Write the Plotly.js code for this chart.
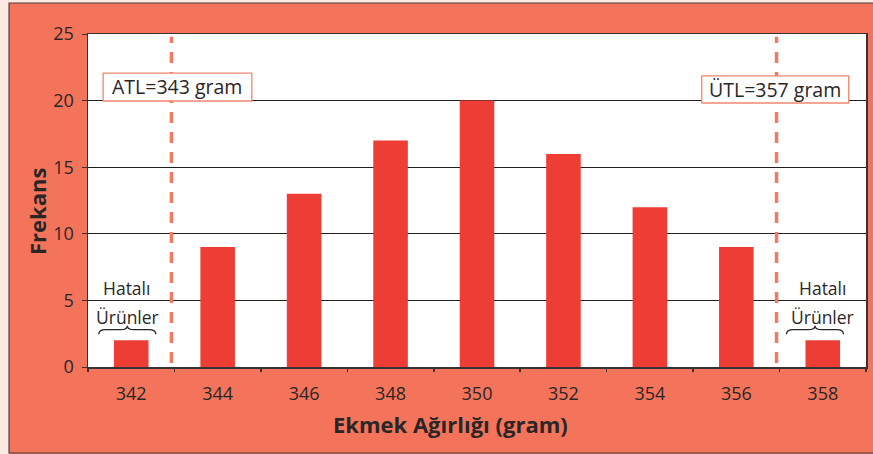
<!DOCTYPE html>
<html>
<head>
<meta charset="utf-8">
<script src="https://cdn.plot.ly/plotly-3.0.1.min.js"></script>
<style>html,body{margin:0;padding:0;background:#fce9e1;}#chart{width:873px;height:454px;}</style>
</head>
<body>
<div id="chart"></div>
<script>
// Data
const weights = [342, 344, 346, 348, 350, 352, 354, 356, 358];
const frequencies = [2, 9, 13, 17, 20, 16, 12, 9, 2];
const yTicks = [0, 5, 10, 15, 20, 25];
const limitLower = 343;
const limitUpper = 357;
const limitLabels = ["ATL=343 gram", "ÜTL=357 gram"];
const defectLabels = ["Hatalı", "Ürünler"];
const xTitle = "Ekmek Ağırlığı (gram)";
const yTitle = "Frekans";

const txt = "#2b2626";
const font = "Open Sans, Noto Sans, sans-serif";
const boundaries = weights.map(w => w - 1).concat([weights[weights.length - 1] + 1]);
const xr = [boundaries[0], boundaries[boundaries.length - 1]];

function brace(xc, half) {
  const d = 0.16, yE = 2.45, yH = 2.8, yT = 3.1;
  return `M ${xc - half},${yE} Q ${xc - half},${yH} ${xc - half + d},${yH} L ${xc - d},${yH} Q ${xc},${yH} ${xc},${yT} Q ${xc},${yH} ${xc + d},${yH} L ${xc + half - d},${yH} Q ${xc + half},${yH} ${xc + half},${yE}`;
}

const traces = [
  {type: 'bar', x: weights, y: frequencies, marker: {color: '#ee3d35'}, width: 0.8, hoverinfo: 'skip'},
  {type: 'scatter', x: [], y: [], xaxis: 'x2', yaxis: 'y', hoverinfo: 'skip', showlegend: false}
];

const lineCol = '#3a3232';
const boxLine = {color: '#f08670', width: 1.3};
const layout = {
  width: 873, height: 454,
  margin: {l: 88, r: 7, t: 34, b: 87},
  paper_bgcolor: '#f3745b',
  plot_bgcolor: '#ffffff',
  showlegend: false,
  font: {family: font, color: txt, size: 17},
  xaxis: {
    range: xr, tickvals: weights, ticktext: weights.map(String), ticks: '',
    showgrid: false, zeroline: false, showline: true, mirror: true, linecolor: lineCol, linewidth: 1.5,
    tickfont: {size: 18, color: txt}, ticklabelstandoff: 10, fixedrange: true
  },
  xaxis2: {
    range: xr, overlaying: 'x', anchor: 'y', side: 'bottom', tickvals: boundaries,
    ticks: 'outside', ticklen: 4, tickwidth: 1.5, tickcolor: lineCol, showticklabels: false,
    showgrid: false, zeroline: false, showline: false
  },
  yaxis: {
    range: [0, 25], tickvals: yTicks, ticks: 'outside', ticklen: 5, tickwidth: 1, tickcolor: lineCol,
    showgrid: true, gridcolor: '#231f1f', gridwidth: 1, zeroline: false,
    showline: true, mirror: true, linecolor: lineCol, linewidth: 1.5,
    tickfont: {size: 18, color: txt}, ticklabelstandoff: 4, fixedrange: true
  },
  shapes: [
    {type: 'rect', xref: 'paper', yref: 'paper', x0: -0.12, x1: -0.1015, y0: -0.4, y1: 1.2, fillcolor: '#fce9e1', line: {width: 0}, layer: 'above'},
    {type: 'rect', xref: 'paper', yref: 'paper', x0: -0.12, x1: 1.2, y0: 1.0931, y1: 1.2, fillcolor: '#fce9e1', line: {width: 0}, layer: 'above'},
    {type: 'rect', xref: 'paper', yref: 'paper', x0: -0.1015, x1: 1.03, y0: -0.2583, y1: 1.0931, fillcolor: 'rgba(0,0,0,0)', line: {color: '#4a3f3c', width: 1.2}, layer: 'above'},
    {type: 'line', xref: 'x', yref: 'y', x0: limitLower - 0.07, x1: limitLower - 0.07, y0: 0.3, y1: 24.8, line: {color: '#f37a62', width: 3.5, dash: '11px,9px'}},
    {type: 'line', xref: 'x', yref: 'y', x0: limitUpper - 0.07, x1: limitUpper - 0.07, y0: 0.3, y1: 24.8, line: {color: '#f37a62', width: 3.5, dash: '11px,9px'}},
    {type: 'rect', xref: 'x', yref: 'y', x0: 341.35, x1: 344.79, y0: 19.97, y1: 22.07, fillcolor: '#ffffff', line: boxLine, layer: 'above'},
    {type: 'rect', xref: 'x', yref: 'y', x0: 355.2, x1: 358.6, y0: 19.82, y1: 21.85, fillcolor: '#ffffff', line: boxLine, layer: 'above'},
    {type: 'path', xref: 'x', yref: 'y', path: brace(341.91, 0.66), line: {color: '#2b2626', width: 1.3}},
    {type: 'path', xref: 'x', yref: 'y', path: brace(357.82, 0.66), line: {color: '#2b2626', width: 1.3}}
  ],
  annotations: [
    {x: 343.07, y: 21.05, xref: 'x', yref: 'y', xanchor: 'center', yanchor: 'middle', text: limitLabels[0], showarrow: false, font: {size: 19.5, color: txt}},
    {x: 356.9, y: 20.83, xref: 'x', yref: 'y', xanchor: 'center', yanchor: 'middle', text: limitLabels[1], showarrow: false, font: {size: 19.5, color: txt}},
    {x: 341.9, y: 5.95, xref: 'x', yref: 'y', xanchor: 'center', yanchor: 'middle', text: defectLabels[0], showarrow: false, font: {size: 17.5, color: txt}},
    {x: 341.91, y: 3.72, xref: 'x', yref: 'y', xanchor: 'center', yanchor: 'middle', text: defectLabels[1], showarrow: false, font: {size: 17.5, color: txt}},
    {x: 358.0, y: 5.95, xref: 'x', yref: 'y', xanchor: 'center', yanchor: 'middle', text: defectLabels[0], showarrow: false, font: {size: 17.5, color: txt}},
    {x: 358.0, y: 3.72, xref: 'x', yref: 'y', xanchor: 'center', yanchor: 'middle', text: defectLabels[1], showarrow: false, font: {size: 17.5, color: txt}},
    {x: 0.4653, y: -0.1712, xref: 'paper', yref: 'paper', xanchor: 'center', yanchor: 'middle', text: '<b>' + xTitle + '</b>', showarrow: false, font: {size: 22, color: txt}},
    {x: -0.0656, y: 0.4685, xref: 'paper', yref: 'paper', xanchor: 'center', yanchor: 'middle', text: '<b>' + yTitle + '</b>', showarrow: false, textangle: -90, font: {size: 22, color: txt}}
  ]
};

Plotly.newPlot('chart', traces, layout, {staticPlot: true, displayModeBar: false});
</script>
</body>
</html>
